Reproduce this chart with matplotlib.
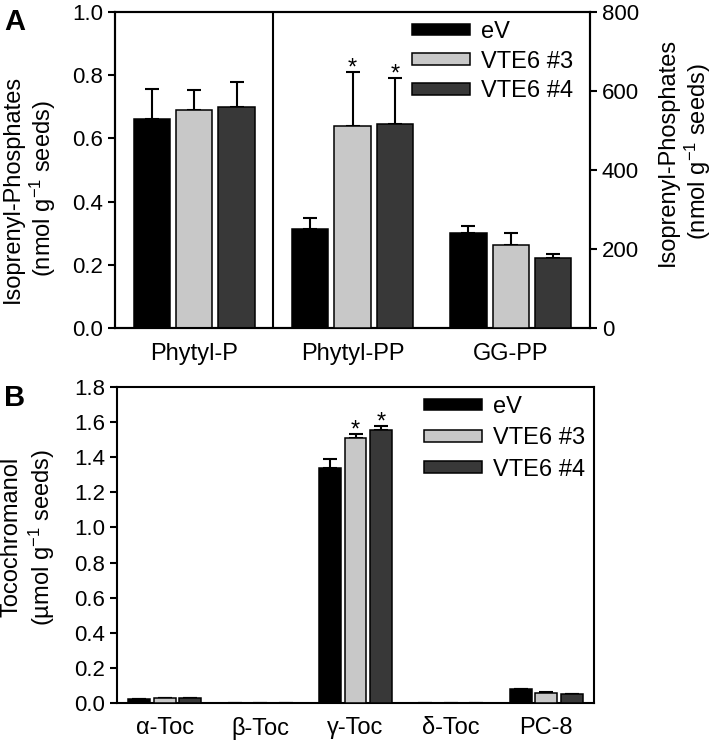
import numpy as np
import matplotlib
matplotlib.use('Agg')
import matplotlib.pyplot as plt

plt.rcParams['font.family'] = ['Liberation Sans', 'DejaVu Sans']
plt.rcParams['mathtext.default'] = 'regular'

# Panel A: isoprenyl phosphates
lines = ['eV', 'VTE6 #3', 'VTE6 #4']
colors = ['#000000', '#c8c8c8', '#383838']
top_categories = ['Phytyl-P', 'Phytyl-PP', 'GG-PP']
# Phytyl-P on the left axis (nmol/g), the rest on the right axis
phytyl_p = [0.661, 0.690, 0.700]
phytyl_p_err = [0.095, 0.063, 0.078]
phytyl_pp = [250, 511, 516]
phytyl_pp_err = [28, 137, 117]
ggpp = [240, 210, 177]
ggpp_err = [18, 31, 10]
top_stars = [('Phytyl-PP', 1), ('Phytyl-PP', 2)]

# Panel B: tocochromanols
bottom_categories = ['α-Toc', 'β-Toc', 'γ-Toc', 'δ-Toc', 'PC-8']
toc_ev = [0.022, 0.0, 1.340, 0.0, 0.078]
toc_ev_err = [0.002, 0.0, 0.052, 0.0, 0.003]
toc_vte3 = [0.027, 0.0, 1.507, 0.0, 0.059]
toc_vte3_err = [0.002, 0.0, 0.028, 0.0, 0.003]
toc_vte4 = [0.027, 0.0, 1.555, 0.0, 0.050]
toc_vte4_err = [0.002, 0.0, 0.022, 0.0, 0.003]
bottom_stars = [('γ-Toc', 1), ('γ-Toc', 2)]

W, H = 717, 741
fig = plt.figure(figsize=(W / 100, H / 100), dpi=100)

width = 0.23
offsets = [-0.268, 0.0, 0.268]
tick_fs = 16
lab_fs = 17


def style_axis(ax):
    for s in ax.spines.values():
        s.set_linewidth(1.5)
    ax.tick_params(axis='y', direction='out', length=5, width=1.5, labelsize=tick_fs)
    ax.tick_params(axis='x', length=0, labelsize=lab_fs)


def draw_bars(ax, x, vals, errs, color, label=None):
    ax.bar(x, vals, width, color=color, edgecolor='black', linewidth=1.1, label=label, zorder=3)
    ax.errorbar(x, vals, yerr=[np.zeros(len(vals)), errs], fmt='none', ecolor='black',
                elinewidth=1.5, capsize=5, capthick=1.5, zorder=2)


def star(ax, x, top):
    ax.annotate('*', xy=(x, top), xytext=(0, -2), textcoords='offset points',
                ha='center', va='baseline', fontsize=lab_fs)


# ---- Panel A ----
ax1 = fig.add_axes([115 / W, 1 - 328 / H, 475 / W, 316 / H])
ax2 = ax1.twinx()
style_axis(ax1)
style_axis(ax2)
ax1.tick_params(axis='y', right=False)
ax2.tick_params(axis='y', left=False)

right_vals = [phytyl_pp, ggpp]
right_errs = [phytyl_pp_err, ggpp_err]
for i, name in enumerate(lines):
    draw_bars(ax1, [offsets[i]], [phytyl_p[i]], [phytyl_p_err[i]], colors[i], label=name)
    xs = [1 + offsets[i], 2 + offsets[i]]
    draw_bars(ax2, xs, [v[i] for v in right_vals], [e[i] for e in right_errs], colors[i])

for cat, i in top_stars:
    c = top_categories.index(cat)
    vals = phytyl_pp if cat == 'Phytyl-PP' else ggpp
    errs = phytyl_pp_err if cat == 'Phytyl-PP' else ggpp_err
    star(ax2, c + offsets[i], vals[i] + errs[i])

ax1.axvline(0.5, color='black', lw=1.5)
ax1.set_xlim(-0.5, 2.5)
ax1.set_ylim(0, 1.0)
ax1.set_yticks(np.arange(0, 1.01, 0.2))
ax1.set_yticklabels([f'{v:.1f}' for v in np.arange(0, 1.01, 0.2)])
ax2.set_ylim(0, 800)
ax2.set_yticks(np.arange(0, 801, 200))
ax1.set_xticks(range(len(top_categories)))
ax1.set_xticklabels(top_categories)
ax1.tick_params(axis='x', pad=11)

h, l = ax1.get_legend_handles_labels()
ax2.legend(h, l, loc='upper left', bbox_to_anchor=(0.625, 0.972), frameon=False,
           fontsize=lab_fs, handlelength=2.46, handleheight=0.38, handletextpad=0.45,
           labelspacing=0.33, borderpad=0, borderaxespad=0)

# ---- Panel B ----
ax3 = fig.add_axes([117 / W, 1 - 703 / H, 477 / W, 316 / H])
style_axis(ax3)
xb = np.arange(len(bottom_categories))
series = [(toc_ev, toc_ev_err), (toc_vte3, toc_vte3_err), (toc_vte4, toc_vte4_err)]
for i, (vals, errs) in enumerate(series):
    draw_bars(ax3, xb + offsets[i], vals, errs, colors[i], label=lines[i])
for cat, i in bottom_stars:
    c = bottom_categories.index(cat)
    vals, errs = series[i]
    star(ax3, c + offsets[i], vals[c] + errs[c])

ax3.set_xlim(-0.5, 4.5)
ax3.set_ylim(0, 1.8)
ax3.set_yticks(np.arange(0, 1.81, 0.2))
ax3.set_yticklabels([f'{v:.1f}' for v in np.arange(0, 1.81, 0.2)])
ax3.set_xticks(xb)
ax3.set_xticklabels(bottom_categories)
ax3.tick_params(axis='x', pad=10)
ax3.legend(loc='upper left', bbox_to_anchor=(0.644, 0.972), frameon=False,
           fontsize=lab_fs, handlelength=2.46, handleheight=0.38, handletextpad=0.45,
           labelspacing=0.4, borderpad=0, borderaxespad=0)

# axis titles and panel letters
fig.text(30 / W, 1 - 189 / H, 'Isoprenyl-Phosphates\n(nmol g$^{-1}$ seeds)', rotation=90,
         ha='center', va='center', multialignment='center', fontsize=lab_fs)
fig.text(685 / W, 1 - 152 / H, 'Isoprenyl-Phosphates\n(nmol g$^{-1}$ seeds)', rotation=90,
         ha='center', va='center', multialignment='center', fontsize=lab_fs)
fig.text(29 / W, 1 - 537 / H, 'Tocochromanol\n(µmol g$^{-1}$ seeds)', rotation=90,
         ha='center', va='center', multialignment='center', fontsize=lab_fs)
fig.text(4 / W, 1 - 22 / H, 'A', fontsize=21, fontweight='bold', va='center')
fig.text(4 / W, 1 - 398 / H, 'B', fontsize=21, fontweight='bold', va='center')

fig.savefig('out.png', dpi=100)
